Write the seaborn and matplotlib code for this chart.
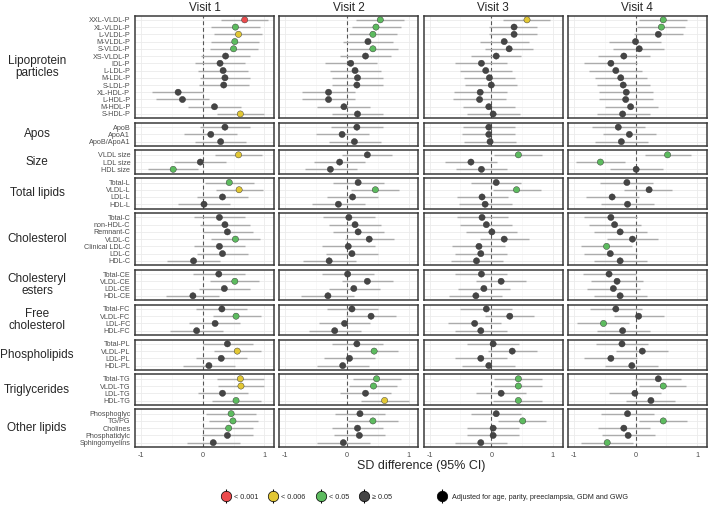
import numpy as np
import pandas as pd
import seaborn as sns
import matplotlib.pyplot as plt
from matplotlib.lines import Line2D
from matplotlib.legend_handler import HandlerTuple

sns.set_style("white")
plt.rcParams["font.family"] = ["Liberation Sans", "DejaVu Sans"]

# ---- data ----
visits = ["Visit 1", "Visit 2", "Visit 3", "Visit 4"]

group_names = ["Lipoprotein\nparticles", "Apos", "Size", "Total lipids", "Cholesterol",
               "Cholesteryl\nesters", "Free\ncholesterol", "Phospholipids",
               "Triglycerides", "Other lipids"]
group_sizes = [14, 3, 3, 4, 7, 4, 4, 4, 4, 5]

metabolites = ["XXL-VLDL-P", "XL-VLDL-P", "L-VLDL-P", "M-VLDL-P", "S-VLDL-P", "XS-VLDL-P",
               "IDL-P", "L-LDL-P", "M-LDL-P", "S-LDL-P", "XL-HDL-P", "L-HDL-P", "M-HDL-P", "S-HDL-P",
               "ApoB", "ApoA1", "ApoB/ApoA1",
               "VLDL size", "LDL size", "HDL size",
               "Total-L", "VLDL-L", "LDL-L", "HDL-L",
               "Total-C", "non-HDL-C", "Remnant-C", "VLDL-C", "Clinical LDL-C", "LDL-C", "HDL-C",
               "Total-CE", "VLDL-CE", "LDL-CE", "HDL-CE",
               "Total-FC", "VLDL-FC", "LDL-FC", "HDL-FC",
               "Total-PL", "VLDL-PL", "LDL-PL", "HDL-PL",
               "Total-TG", "VLDL-TG", "LDL-TG", "HDL-TG",
               "Phosphoglyc", "TG/PG", "Cholines", "Phosphatidylc", "Sphingomyelins"]

est_v1 = [0.68, 0.53, 0.58, 0.52, 0.50, 0.37, 0.28, 0.33, 0.36, 0.34, -0.40, -0.33, 0.19, 0.61,
          0.36, 0.13, 0.29,
          0.58, -0.04, -0.48,
          0.43, 0.59, 0.32, 0.02,
          0.27, 0.36, 0.40, 0.53, 0.27, 0.32, -0.15,
          0.26, 0.52, 0.35, -0.16,
          0.31, 0.54, 0.20, -0.10,
          0.40, 0.56, 0.30, 0.10,
          0.61, 0.62, 0.32, 0.54,
          0.46, 0.49, 0.42, 0.40, 0.17]
lo_v1 = [0.30, 0.14, 0.19, 0.13, 0.11, -0.03, -0.12, -0.08, -0.05, -0.06, -0.82, -0.76, -0.24, 0.23,
         -0.05, -0.30, -0.13,
         0.20, -0.46, -0.89,
         0.04, 0.21, -0.09, -0.40,
         -0.14, -0.04, 0.01, 0.14, -0.14, -0.09, -0.58,
         -0.16, 0.12, -0.06, -0.59,
         -0.11, 0.16, -0.22, -0.53,
         0.00, 0.18, -0.11, -0.32,
         0.23, 0.24, -0.08, 0.15,
         0.05, 0.10, 0.01, -0.01, -0.25]
hi_v1 = [1.06, 0.93, 0.96, 0.91, 0.90, 0.77, 0.69, 0.73, 0.76, 0.75, 0.01, 0.10, 0.62, 1.00,
         0.77, 0.56, 0.70,
         0.96, 0.38, -0.08,
         0.83, 0.97, 0.73, 0.45,
         0.69, 0.77, 0.81, 0.93, 0.69, 0.73, 0.28,
         0.68, 0.92, 0.76, 0.26,
         0.72, 0.94, 0.61, 0.33,
         0.81, 0.95, 0.72, 0.53,
         0.99, 1.00, 0.73, 0.94,
         0.87, 0.90, 0.82, 0.81, 0.60]
p_v1 = [3, 1, 2, 1, 1, 0, 0, 0, 0, 0, 0, 0, 0, 2,
        0, 0, 0,
        2, 0, 1,
        1, 2, 0, 0,
        0, 0, 0, 1, 0, 0, 0,
        0, 1, 0, 0,
        0, 1, 0, 0,
        0, 2, 0, 0,
        2, 2, 0, 1,
        1, 1, 1, 0, 0]

est_v2 = [0.54, 0.47, 0.42, 0.34, 0.42, 0.30, 0.06, 0.13, 0.17, 0.16, -0.30, -0.30, -0.05, 0.17,
          0.16, -0.08, 0.12,
          0.33, -0.12, -0.27,
          0.18, 0.46, 0.09, -0.14,
          0.03, 0.13, 0.18, 0.36, 0.02, 0.08, -0.29,
          0.01, 0.33, 0.11, -0.31,
          0.08, 0.39, -0.04, -0.20,
          0.16, 0.44, 0.04, -0.07,
          0.48, 0.43, 0.30, 0.61,
          0.21, 0.42, 0.17, 0.20, -0.06]
lo_v2 = [0.15, 0.08, 0.04, -0.06, 0.03, -0.11, -0.35, -0.28, -0.25, -0.25, -0.73, -0.73, -0.48, -0.25,
         -0.26, -0.51, -0.30,
         -0.08, -0.54, -0.69,
         -0.23, 0.06, -0.33, -0.57,
         -0.39, -0.29, -0.23, -0.04, -0.40, -0.34, -0.72,
         -0.41, -0.08, -0.30, -0.74,
         -0.33, -0.01, -0.46, -0.62,
         -0.25, 0.04, -0.38, -0.49,
         0.10, 0.04, -0.11, 0.23,
         -0.20, 0.02, -0.25, -0.21, -0.48]
hi_v2 = [0.92, 0.87, 0.81, 0.75, 0.82, 0.72, 0.48, 0.55, 0.59, 0.59, 0.13, 0.13, 0.38, 0.58,
         0.58, 0.35, 0.55,
         0.73, 0.29, 0.16,
         0.60, 0.85, 0.51, 0.29,
         0.45, 0.55, 0.60, 0.76, 0.45, 0.50, 0.14,
         0.43, 0.74, 0.54, 0.12,
         0.50, 0.80, 0.38, 0.23,
         0.58, 0.83, 0.46, 0.35,
         0.87, 0.81, 0.71, 1.00,
         0.62, 0.82, 0.59, 0.62, 0.37]
p_v2 = [1, 1, 1, 0, 1, 0, 0, 0, 0, 0, 0, 0, 0, 0,
        0, 0, 0,
        0, 0, 0,
        0, 1, 0, 0,
        0, 0, 0, 0, 0, 0, 0,
        0, 0, 0, 0,
        0, 0, 0, 0,
        0, 1, 0, 0,
        1, 1, 0, 2,
        0, 1, 0, 0, 0]

est_v3 = [0.58, 0.37, 0.37, 0.21, 0.29, 0.08, -0.16, -0.09, -0.03, 0.00, -0.18, -0.19, -0.04, 0.03,
          -0.04, -0.04, -0.02,
          0.44, -0.33, -0.16,
          0.08, 0.41, -0.15, -0.10,
          -0.15, -0.08, 0.01, 0.21, -0.20, -0.17, -0.24,
          -0.16, 0.16, -0.12, -0.25,
          -0.08, 0.30, -0.27, -0.17,
          0.03, 0.34, -0.17, -0.04,
          0.44, 0.44, 0.16, 0.44,
          0.08, 0.51, 0.03, 0.03, -0.17]
lo_v3 = [0.19, -0.03, -0.03, -0.19, -0.10, -0.33, -0.59, -0.51, -0.45, -0.42, -0.61, -0.62, -0.46, -0.39,
         -0.46, -0.47, -0.44,
         0.05, -0.75, -0.58,
         -0.33, 0.03, -0.56, -0.52,
         -0.56, -0.50, -0.41, -0.19, -0.63, -0.59, -0.66,
         -0.59, -0.25, -0.54, -0.68,
         -0.50, -0.10, -0.70, -0.59,
         -0.39, -0.06, -0.59, -0.47,
         0.05, 0.05, -0.25, 0.03,
         -0.33, 0.11, -0.39, -0.39, -0.59]
hi_v3 = [0.95, 0.75, 0.75, 0.61, 0.68, 0.49, 0.26, 0.33, 0.39, 0.42, 0.25, 0.24, 0.39, 0.46,
         0.38, 0.38, 0.40,
         0.83, 0.10, 0.26,
         0.49, 0.80, 0.27, 0.33,
         0.27, 0.34, 0.42, 0.61, 0.22, 0.25, 0.19,
         0.26, 0.56, 0.30, 0.17,
         0.34, 0.69, 0.16, 0.26,
         0.45, 0.74, 0.25, 0.38,
         0.82, 0.82, 0.56, 0.83,
         0.49, 0.89, 0.45, 0.45, 0.26]
p_v3 = [2, 0, 0, 0, 0, 0, 0, 0, 0, 0, 0, 0, 0, 0,
        0, 0, 0,
        1, 0, 0,
        0, 1, 0, 0,
        0, 0, 0, 0, 0, 0, 0,
        0, 0, 0, 0,
        0, 0, 0, 0,
        0, 0, 0, 0,
        1, 1, 0, 1,
        0, 1, 0, 0, 0]

est_v4 = [0.45, 0.42, 0.37, 0.00, 0.06, -0.19, -0.40, -0.32, -0.24, -0.20, -0.15, -0.16, -0.08, -0.21,
          -0.28, -0.10, -0.23,
          0.52, -0.57, 0.01,
          -0.14, 0.22, -0.38, -0.13,
          -0.40, -0.34, -0.25, -0.05, -0.47, -0.41, -0.25,
          -0.43, -0.30, -0.36, -0.25,
          -0.32, 0.05, -0.52, -0.21,
          -0.22, 0.11, -0.40, -0.06,
          0.37, 0.45, -0.01, 0.25,
          -0.13, 0.45, -0.19, -0.12, -0.46]
lo_v4 = [0.06, 0.03, -0.03, -0.43, -0.36, -0.61, -0.83, -0.75, -0.66, -0.62, -0.59, -0.59, -0.50, -0.62,
         -0.71, -0.52, -0.65,
         0.15, -0.97, -0.42,
         -0.57, -0.19, -0.81, -0.56,
         -0.83, -0.76, -0.68, -0.47, -0.89, -0.84, -0.68,
         -0.85, -0.72, -0.78, -0.68,
         -0.74, -0.35, -0.95, -0.63,
         -0.64, -0.31, -0.83, -0.49,
         -0.01, 0.06, -0.43, -0.15,
         -0.56, 0.05, -0.61, -0.55, -0.89]
hi_v4 = [0.84, 0.81, 0.77, 0.42, 0.47, 0.24, 0.03, 0.10, 0.19, 0.23, 0.29, 0.28, 0.36, 0.23,
         0.16, 0.33, 0.20,
         0.90, -0.17, 0.45,
         0.29, 0.60, 0.05, 0.30,
         0.03, 0.09, 0.18, 0.37, -0.05, 0.02, 0.18,
         0.01, 0.12, 0.07, 0.18,
         0.11, 0.47, -0.10, 0.23,
         0.20, 0.52, 0.03, 0.36,
         0.74, 0.82, 0.41, 0.64,
         0.30, 0.84, 0.24, 0.31, -0.04]
p_v4 = [1, 1, 0, 0, 0, 0, 0, 0, 0, 0, 0, 0, 0, 0,
        0, 0, 0,
        1, 1, 0,
        0, 0, 0, 0,
        0, 0, 0, 0, 1, 0, 0,
        0, 0, 0, 0,
        0, 0, 1, 0,
        0, 0, 0, 0,
        0, 1, 0, 0,
        0, 1, 0, 0, 1]

p_labels = ["≥ 0.05", "< 0.05", "< 0.006", "< 0.001"]
p_colors = {"< 0.001": "#EC4B4D", "< 0.006": "#E2C734", "< 0.05": "#5DBB5F", "≥ 0.05": "#454545"}

# ---- long table ----
grp_of_row, pos_of_row = [], []
for g, n in zip(group_names, group_sizes):
    grp_of_row += [g] * n
    pos_of_row += list(range(n))

rows = []
series = [(est_v1, lo_v1, hi_v1, p_v1), (est_v2, lo_v2, hi_v2, p_v2),
          (est_v3, lo_v3, hi_v3, p_v3), (est_v4, lo_v4, hi_v4, p_v4)]
for v, (est, lo, hi, p) in zip(visits, series):
    for i, m in enumerate(metabolites):
        rows.append(dict(visit=v, metabolite=m, group=grp_of_row[i], pos=pos_of_row[i],
                         est=est[i], lo=lo[i], hi=hi[i], p=p_labels[p[i]]))
df = pd.DataFrame(rows)

# ---- figure ----
W, H = 709, 505
fig = plt.figure(figsize=(W / 100, H / 100), dpi=100)
gs = fig.add_gridspec(10, 4, height_ratios=[n + 0.2 for n in group_sizes],
                      left=135 / W, right=707 / W, top=1 - 15.5 / H, bottom=1 - 447 / H,
                      wspace=0.036, hspace=0.115)

grid_col = "#EBEBEB"
for gi, (g, n) in enumerate(zip(group_names, group_sizes)):
    for vi, v in enumerate(visits):
        ax = fig.add_subplot(gs[gi, vi])
        sub = df[(df.group == g) & (df.visit == v)]
        ax.hlines(sub.pos, sub.lo, sub.hi, color="#ABABAB", lw=1.0, zorder=2)
        sns.scatterplot(data=sub, x="est", y="pos", hue="p", palette=p_colors, s=20,
                        edgecolor="#2E2E2E", linewidth=0.3, legend=False, ax=ax, zorder=3)
        ax.axvline(0, color="#555555", ls=(0, (3.5, 2.5)), lw=0.8, zorder=1.5)
        ax.set_xlim(-1.1, 1.16)
        ax.set_ylim(n - 0.4, -0.6)
        ax.set_xticks([-1, 0, 1])
        ax.set_xticks([-0.5, 0.5], minor=True)
        ax.set_yticks(range(n))
        ax.grid(True, which="major", color=grid_col, lw=0.6)
        ax.grid(True, which="minor", axis="x", color="#F4F4F4", lw=0.4)
        ax.set_axisbelow(True)
        ax.set_xlabel("")
        ax.set_ylabel("")
        for s in ax.spines.values():
            s.set_color("#3A3A3A")
            s.set_linewidth(1.1)
        ax.tick_params(which="both", length=0, labelleft=False, labelbottom=False)
        if vi == 0:
            ax.set_yticklabels(sub.metabolite.tolist())
            ax.tick_params(axis="y", length=2.2, width=0.6, color="#4D4D4D",
                           labelleft=True, labelsize=5.2, labelcolor="#4D4D4D", pad=1.2)
        if gi == len(group_names) - 1:
            ax.set_xticklabels(["-1", "0", "1"])
            ax.tick_params(axis="x", which="major", length=2.2, width=0.6, color="#4D4D4D",
                           labelbottom=True, labelsize=5.2, labelcolor="#4D4D4D", pad=1.5)
        if gi == 0:
            ax.set_title(v, fontsize=8.5, pad=3)
        if vi == 0:
            box = ax.get_position()
            fig.text(37 / W, (box.y0 + box.y1) / 2, g, ha="center", va="center",
                     fontsize=8.5, linespacing=1.05)

fig.text(421 / W, 1 - 466.5 / H, "SD difference (95% CI)", ha="center", va="center", fontsize=9)

# ---- legends ----
def key(col):
    return (Line2D([], [], color="black", marker="|", markersize=10, mew=0.8, linestyle="none"),
            Line2D([], [], marker="o", markerfacecolor=col, markeredgecolor="black",
                   markeredgewidth=0.5, markersize=7.5, linestyle="none"))

order = ["< 0.001", "< 0.006", "< 0.05", "≥ 0.05"]
fig.legend([key(p_colors[k]) for k in order], order, handler_map={tuple: HandlerTuple(ndivide=1)},
           loc="center", bbox_to_anchor=(307 / W, 1 - 497 / H), ncol=4, frameon=False,
           fontsize=5.2, handlelength=1.0, handletextpad=0.6, columnspacing=1.6)
fig.legend([key("black")], ["Adjusted for age, parity, preeclampsia, GDM and GWG"],
           handler_map={tuple: HandlerTuple(ndivide=1)},
           loc="center", bbox_to_anchor=(533 / W, 1 - 497 / H), frameon=False,
           fontsize=5.2, handlelength=1.0, handletextpad=0.8)

fig.savefig("out.png", dpi=100)
